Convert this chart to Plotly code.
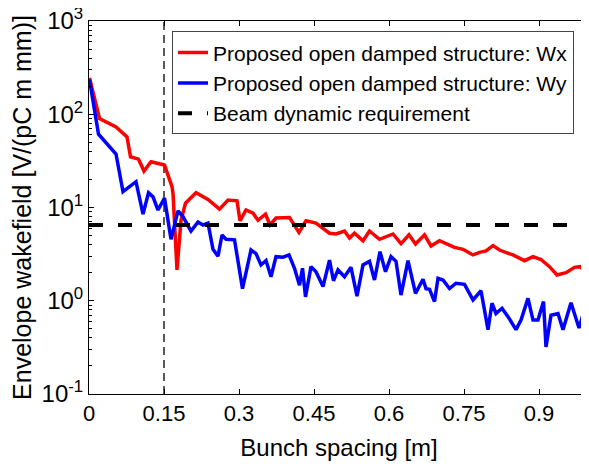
import plotly.graph_objects as go

# Red: Wx
wx_x = [0.001, 0.021, 0.054, 0.076, 0.083, 0.099, 0.110, 0.124, 0.151, 0.166, 0.168, 0.176, 0.184, 0.193,
        0.214, 0.238, 0.261, 0.278, 0.296, 0.302, 0.314, 0.328, 0.338, 0.353, 0.362, 0.374, 0.401, 0.420,
        0.434, 0.454, 0.481, 0.494, 0.511, 0.521, 0.531, 0.548, 0.561, 0.581, 0.608, 0.624, 0.640, 0.653,
        0.671, 0.684, 0.701, 0.714, 0.731, 0.748, 0.768, 0.781, 0.794, 0.808, 0.821, 0.840, 0.848, 0.871,
        0.888, 0.904, 0.921, 0.936, 0.954, 0.971, 0.982, 0.998]
wx_y = [245, 90, 73, 57, 35, 33, 24.6, 31, 28.5, 16.7, 14.2, 2.14, 7.3, 11.1,
        14.4, 12.2, 9.6, 12, 11.8, 7.2, 9.4, 8.7, 7.3, 8.5, 6.5, 7.7, 7.8, 5.4,
        7.2, 6.8, 5.3, 5.2, 5.6, 4.7, 5.3, 4.4, 5.6, 4.56, 5.2, 4.1, 5.1, 4.06,
        5.1, 3.87, 4.4, 4.1, 3.74, 3.56, 3.1, 3.3, 3.42, 3.9, 3.5, 3.2, 3.1, 2.69,
        2.97, 2.77, 2.32, 1.89, 2.0, 2.28, 2.32, 1.97]

# Blue: Wy
wy_x = [0.001, 0.019, 0.054, 0.068, 0.094, 0.108, 0.119, 0.128, 0.138, 0.151, 0.164, 0.178, 0.188, 0.204,
        0.218, 0.228, 0.238, 0.248, 0.258, 0.266, 0.274, 0.291, 0.307, 0.324, 0.334, 0.344, 0.354, 0.364,
        0.374, 0.388, 0.400, 0.411, 0.421, 0.427, 0.433, 0.444, 0.454, 0.468, 0.481, 0.489, 0.498, 0.511,
        0.524, 0.536, 0.548, 0.561, 0.571, 0.582, 0.593, 0.604, 0.614, 0.624, 0.638, 0.653, 0.668, 0.674,
        0.681, 0.691, 0.698, 0.708, 0.721, 0.734, 0.751, 0.768, 0.784, 0.798, 0.806, 0.814, 0.826, 0.840,
        0.854, 0.864, 0.878, 0.888, 0.898, 0.909, 0.914, 0.924, 0.938, 0.948, 0.964, 0.980, 0.991, 0.998]
wy_y = [235, 61, 37.5, 14.8, 18.9, 8.5, 14.4, 13, 9.4, 12.6, 4.56, 9.2, 8.0, 5.6,
        7.0, 6.5, 6.8, 3.56, 3.0, 5.07, 4.56, 4.5, 1.35, 3.5, 3.2, 2.42, 2.7, 1.81,
        2.97, 2.93, 3.1, 2.23, 1.47, 2.23, 1.1, 2.32, 2.05, 1.42, 2.73, 1.64, 2.14, 1.81,
        2.28, 1.12, 2.42, 2.65, 1.67, 3.36, 2.05, 2.97, 2.65, 1.15, 2.7, 1.2, 1.7, 1.35,
        1.33, 0.98, 1.74, 1.67, 1.35, 1.54, 1.5, 1.02, 1.28, 0.49, 0.94, 0.73, 0.83, 0.65,
        0.49, 0.62, 1.06, 0.62, 0.62, 0.98, 0.32, 0.70, 0.73, 0.49, 0.95, 0.51, 0.80, 0.77]

req_x = [0.0, 1.0]
req_y = [6.5, 6.5]
spacing_x = [0.15, 0.15]
spacing_y = [0.1, 1000]

x_ticks = [0, 0.15, 0.3, 0.45, 0.6, 0.75, 0.9]
x_ticktext = ["0", "0.15", "0.3", "0.45", "0.6", "0.75", "0.9"]
y_ticks = [0.1, 1, 10, 100, 1000]
y_ticktext = ["10<sup>-1</sup>", "10<sup>0</sup>", "10<sup>1</sup>", "10<sup>2</sup>", "10<sup>3</sup>"]

FONT = "Liberation Sans, Arial, sans-serif"

fig = go.Figure()
fig.add_trace(go.Scatter(x=spacing_x, y=spacing_y, mode="lines", showlegend=False,
                         line=dict(color="black", width=1.3, dash="8px,5px"), hoverinfo="skip"))
fig.add_trace(go.Scatter(x=wx_x, y=wx_y, mode="lines", name="Proposed open damped structure: Wx",
                         line=dict(color="#ff0000", width=3.5)))
fig.add_trace(go.Scatter(x=wy_x, y=wy_y, mode="lines", name="Proposed open damped structure: Wy",
                         line=dict(color="#0000ff", width=3.5)))
fig.add_trace(go.Scatter(x=req_x, y=req_y, mode="lines", name="Beam dynamic requirement",
                         line=dict(color="black", width=4, dash="14px,15px")))

# page body adds an 8px offset, so margins are shifted to keep the plot area in place
fig.update_layout(
    width=589, height=464,
    margin=dict(l=81, r=8, t=13, b=78, autoexpand=False),
    paper_bgcolor="white", plot_bgcolor="white",
    font=dict(family=FONT, size=18, color="black"),
    legend=dict(x=0.166, y=0.972, xanchor="left", yanchor="top",
                bgcolor="white", bordercolor="#444444", borderwidth=1,
                font=dict(size=21, family=FONT), tracegroupgap=0, itemwidth=30),
)
fig.update_xaxes(range=[0, 1.0], tickvals=x_ticks, ticktext=x_ticktext, automargin=False,
                 showline=True, linecolor="black", linewidth=1, mirror="ticks",
                 ticks="inside", ticklen=5, tickcolor="black", showgrid=False, zeroline=False,
                 ticklabeloverflow="allow",
                 title=dict(text="Bunch spacing [m]", font=dict(size=24), standoff=13),
                 tickfont=dict(size=22))
fig.update_yaxes(type="log", range=[-1, 3], tickvals=y_ticks, ticktext=y_ticktext, automargin=False,
                 showline=True, linecolor="black", linewidth=1, mirror="ticks",
                 ticks="inside", ticklen=5, tickcolor="black", showgrid=False, zeroline=False,
                 ticklabeloverflow="allow",
                 minor=dict(ticks="inside", ticklen=3, tickcolor="black", dtick="D1", showgrid=False),
                 title=dict(text="Envelope wakefield [V/(pC m mm)]", font=dict(size=25), standoff=6),
                 tickfont=dict(size=24))

fig.write_html("out.html")
